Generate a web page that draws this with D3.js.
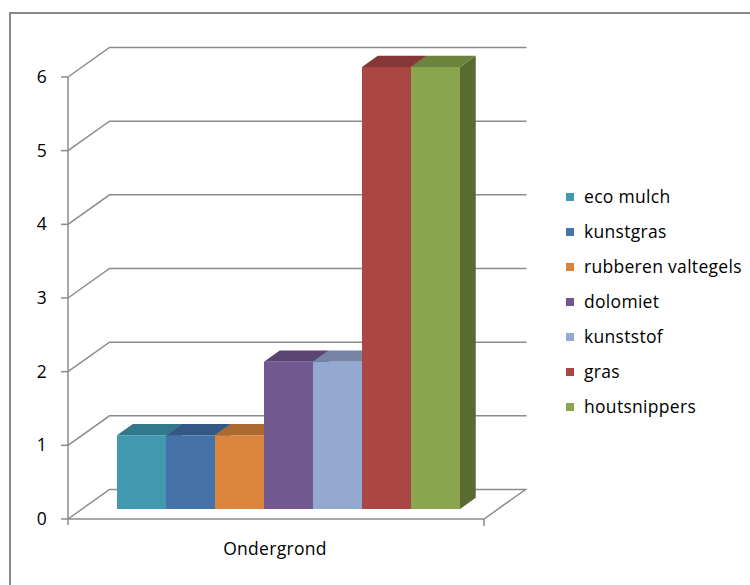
<!DOCTYPE html>
<html>
<head>
<meta charset="utf-8">
<script src="https://cdn.jsdelivr.net/npm/d3@7"></script>
<style>
  html, body { margin: 0; padding: 0; background: #fff; }
  svg { display: block; }
  text { font-family: "Open Sans", Lato, sans-serif; fill: #000; letter-spacing: 0.3px; }
</style>
</head>
<body>
<svg id="chart" width="750" height="585"></svg>
<script>
// ---- data ----
const categories = ["Ondergrond"];
const seriesNames = ["eco mulch", "kunstgras", "rubberen valtegels", "dolomiet", "kunststof", "gras", "houtsnippers"];
const seriesValues = [1, 1, 1, 2, 2, 6, 6];
const yTicks = [0, 1, 2, 3, 4, 5, 6];
const frontColors = ["#4198AF", "#4572A7", "#DB843D", "#71588F", "#93A9CF", "#AA4643", "#89A54E"];
const topColors   = ["#31788A", "#345886", "#AD6A30", "#594570", "#7585A3", "#873735", "#6C833D"];
const sideColors  = ["#2E6473", "#2E4A70", "#8F5626", "#4A395C", "#5F6E88", "#6F2D2B", "#5A6B31"];

// ---- layout ----
const svg = d3.select("#chart");
const originX = 68, originY = 519;      // front-left corner of floor
const frontRight = 484;                 // front-right corner of floor
const depthDX = 41.5, depthDY = -29.5;  // full floor depth offset
const y = d3.scaleLinear().domain([0, 6]).range([0, 442]);   // height in px
const zFront = 0.34, zBack = 0.72;

function proj(X, v, z) {
  return [X + depthDX * z, originY - y(v) + depthDY * z];
}

// bar x band (front-plane coordinates)
const x = d3.scaleBand().domain(seriesNames)
  .range([117 - depthDX * zFront, 460 - depthDX * zFront]).padding(0);

// chart border
svg.append("rect").attr("x", 10).attr("y", 13).attr("width", 760).attr("height", 600)
  .attr("fill", "none").attr("stroke", "#888").attr("stroke-width", 2);

const grid = svg.append("g").attr("fill", "none").attr("stroke", "#8c8c8c").attr("stroke-width", 1.5);
const line = d3.line();

// gridlines on side and back walls
yTicks.forEach(v => {
  if (v === 0) return;
  const a = proj(originX, v, 0), b = proj(originX, v, 1), c = proj(frontRight, v, 1);
  grid.append("path").attr("d", line([a, b, [c[0] + 1, c[1]]]));
});
// floor
{
  const a = proj(originX, 0, 0), b = proj(originX, 0, 1), c = proj(frontRight, 0, 1), d = proj(frontRight, 0, 0);
  grid.append("path").attr("d", line([a, b, c, d, a]));
}
// vertical axis
grid.append("path").attr("d", line([[originX, originY - y(6)], [originX, originY + 6]]));
// tick marks
yTicks.forEach(v => {
  const yy = originY - y(v);
  grid.append("path").attr("d", line([[originX - 7, yy], [originX, yy]]));
});
grid.append("path").attr("d", line([[frontRight, originY], [frontRight, originY + 7]]));

// y labels
svg.append("g").selectAll("text").data(yTicks).join("text")
  .attr("x", 47).attr("y", v => originY - y(v) + 6)
  .attr("text-anchor", "end").attr("font-size", 17.5).text(d => d);

// category label
svg.append("text").attr("x", 275).attr("y", 555).attr("text-anchor", "middle")
  .attr("font-size", 17.5).text(categories[0]);

// bars
const bars = svg.append("g");
seriesNames.forEach((name, i) => {
  const v = seriesValues[i];
  const x0 = x(name), x1 = x(name) + x.bandwidth();
  const side = [proj(x1, 0, zFront), proj(x1, 0, zBack), proj(x1, v, zBack), proj(x1, v, zFront)];
  const top = [proj(x0, v, zFront), proj(x0, v, zBack), proj(x1, v, zBack), proj(x1, v, zFront)];
  const front = [proj(x0, 0, zFront), proj(x0, v, zFront), proj(x1, v, zFront), proj(x1, 0, zFront)];
  bars.append("path").attr("d", line(side) + "Z").attr("fill", sideColors[i]);
  bars.append("path").attr("d", line(top) + "Z").attr("fill", topColors[i]);
  bars.append("path").attr("d", line(front) + "Z").attr("fill", frontColors[i]);
});

// legend
const legend = svg.append("g").attr("transform", "translate(566,197)");
const rows = legend.selectAll("g").data(seriesNames).join("g")
  .attr("transform", (d, i) => `translate(0,${i * 35})`);
rows.append("rect").attr("x", 0).attr("y", -4).attr("width", 8).attr("height", 8)
  .attr("fill", (d, i) => frontColors[i]);
rows.append("text").attr("x", 18).attr("y", 6).attr("font-size", 17.5).text(d => d);
</script>
</body>
</html>
